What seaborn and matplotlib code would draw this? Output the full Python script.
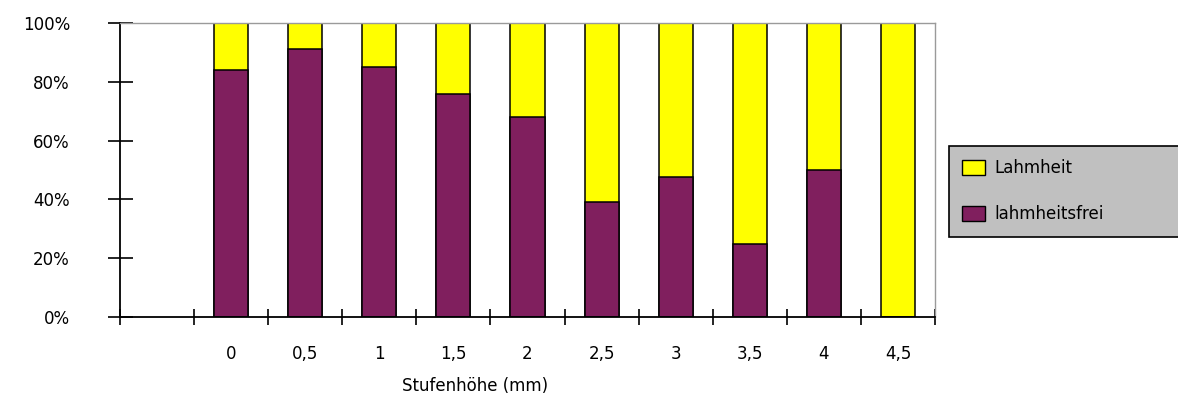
import matplotlib
matplotlib.use("Agg")
import matplotlib.pyplot as plt
import seaborn as sns
import pandas as pd
import numpy as np
from matplotlib.patches import Patch

categories = ["0", "0,5", "1", "1,5", "2", "2,5", "3", "3,5", "4", "4,5"]
lahmheitsfrei = [84, 91, 85, 76, 68, 39, 47.5, 25, 50, 0]
lahmheit = [16, 9, 15, 24, 32, 61, 52.5, 75, 50, 100]
y_ticks = [0, 20, 40, 60, 80, 100]

PURPLE = "#801F5E"
YELLOW = "#FFFF00"
FS = 12

sns.set_theme(style="white")
plt.rcParams["font.family"] = ["DejaVu Sans"]
plt.rcParams["text.color"] = "black"
plt.rcParams["axes.labelcolor"] = "black"
plt.rcParams["xtick.color"] = "black"
plt.rcParams["ytick.color"] = "black"

df = pd.DataFrame({"cat": categories, "frei": lahmheitsfrei, "lahm": lahmheit})
df["total"] = df["frei"] + df["lahm"]

fig = plt.figure(figsize=(11.78, 4.0), dpi=100)
ax = fig.add_axes([120 / 1178, 1 - 317 / 400, 815 / 1178, 294 / 400])

sns.barplot(data=df, x="cat", y="total", order=categories, color=YELLOW,
            saturation=1, width=0.46, edgecolor="black", linewidth=1.1, ax=ax)
sns.barplot(data=df, x="cat", y="frei", order=categories, color=PURPLE,
            saturation=1, width=0.46, edgecolor="black", linewidth=1.1, ax=ax)

ax.set_xlim(-1.5, 9.5)
ax.set_ylim(0, 100)
ax.set_yticks(y_ticks)
ax.set_yticklabels([f"{v}%" for v in y_ticks], fontsize=FS)
ax.tick_params(axis="y", direction="inout", length=18, width=1.2, color="black",
               pad=27, left=True, labelcolor="black")

ax.set_xticks(range(len(categories)))
ax.set_xticklabels(categories, fontsize=FS)
ax.tick_params(axis="x", which="major", length=0, pad=20, labelcolor="black")
ax.set_xticks(np.arange(-1.5, 9.6, 1.0), minor=True)
ax.tick_params(axis="x", which="minor", direction="inout", length=12, width=1.2,
               color="black", bottom=True)

ax.set_xlabel("Stufenhöhe (mm)", fontsize=FS, color="black")
ax.xaxis.set_label_coords(0.436, -0.205)
ax.set_ylabel("")

for s in ["left", "bottom"]:
    ax.spines[s].set_color("black")
    ax.spines[s].set_linewidth(1.3)
for s in ["top", "right"]:
    ax.spines[s].set_color("#9A9A9A")
    ax.spines[s].set_linewidth(1.0)
    ax.spines[s].set_visible(True)

handles = [Patch(facecolor=YELLOW, edgecolor="black", label="Lahmheit"),
           Patch(facecolor=PURPLE, edgecolor="black", label="lahmheitsfrei")]
leg = fig.legend(handles=handles, loc="upper left",
                 bbox_to_anchor=(949 / 1178, 1 - 146 / 400, 260 / 1178, 0.001),
                 mode="expand", frameon=True, fancybox=False, fontsize=FS,
                 handlelength=1.35, handleheight=1.05, handletextpad=0.55,
                 labelspacing=1.7, borderpad=0.8, borderaxespad=0)
leg.get_frame().set_facecolor("#C0C0C0")
leg.get_frame().set_edgecolor("black")
leg.get_frame().set_linewidth(1.2)
leg.get_frame().set_alpha(1)
for t in leg.get_texts():
    t.set_color("black")

fig.savefig("out.png", dpi=100)
